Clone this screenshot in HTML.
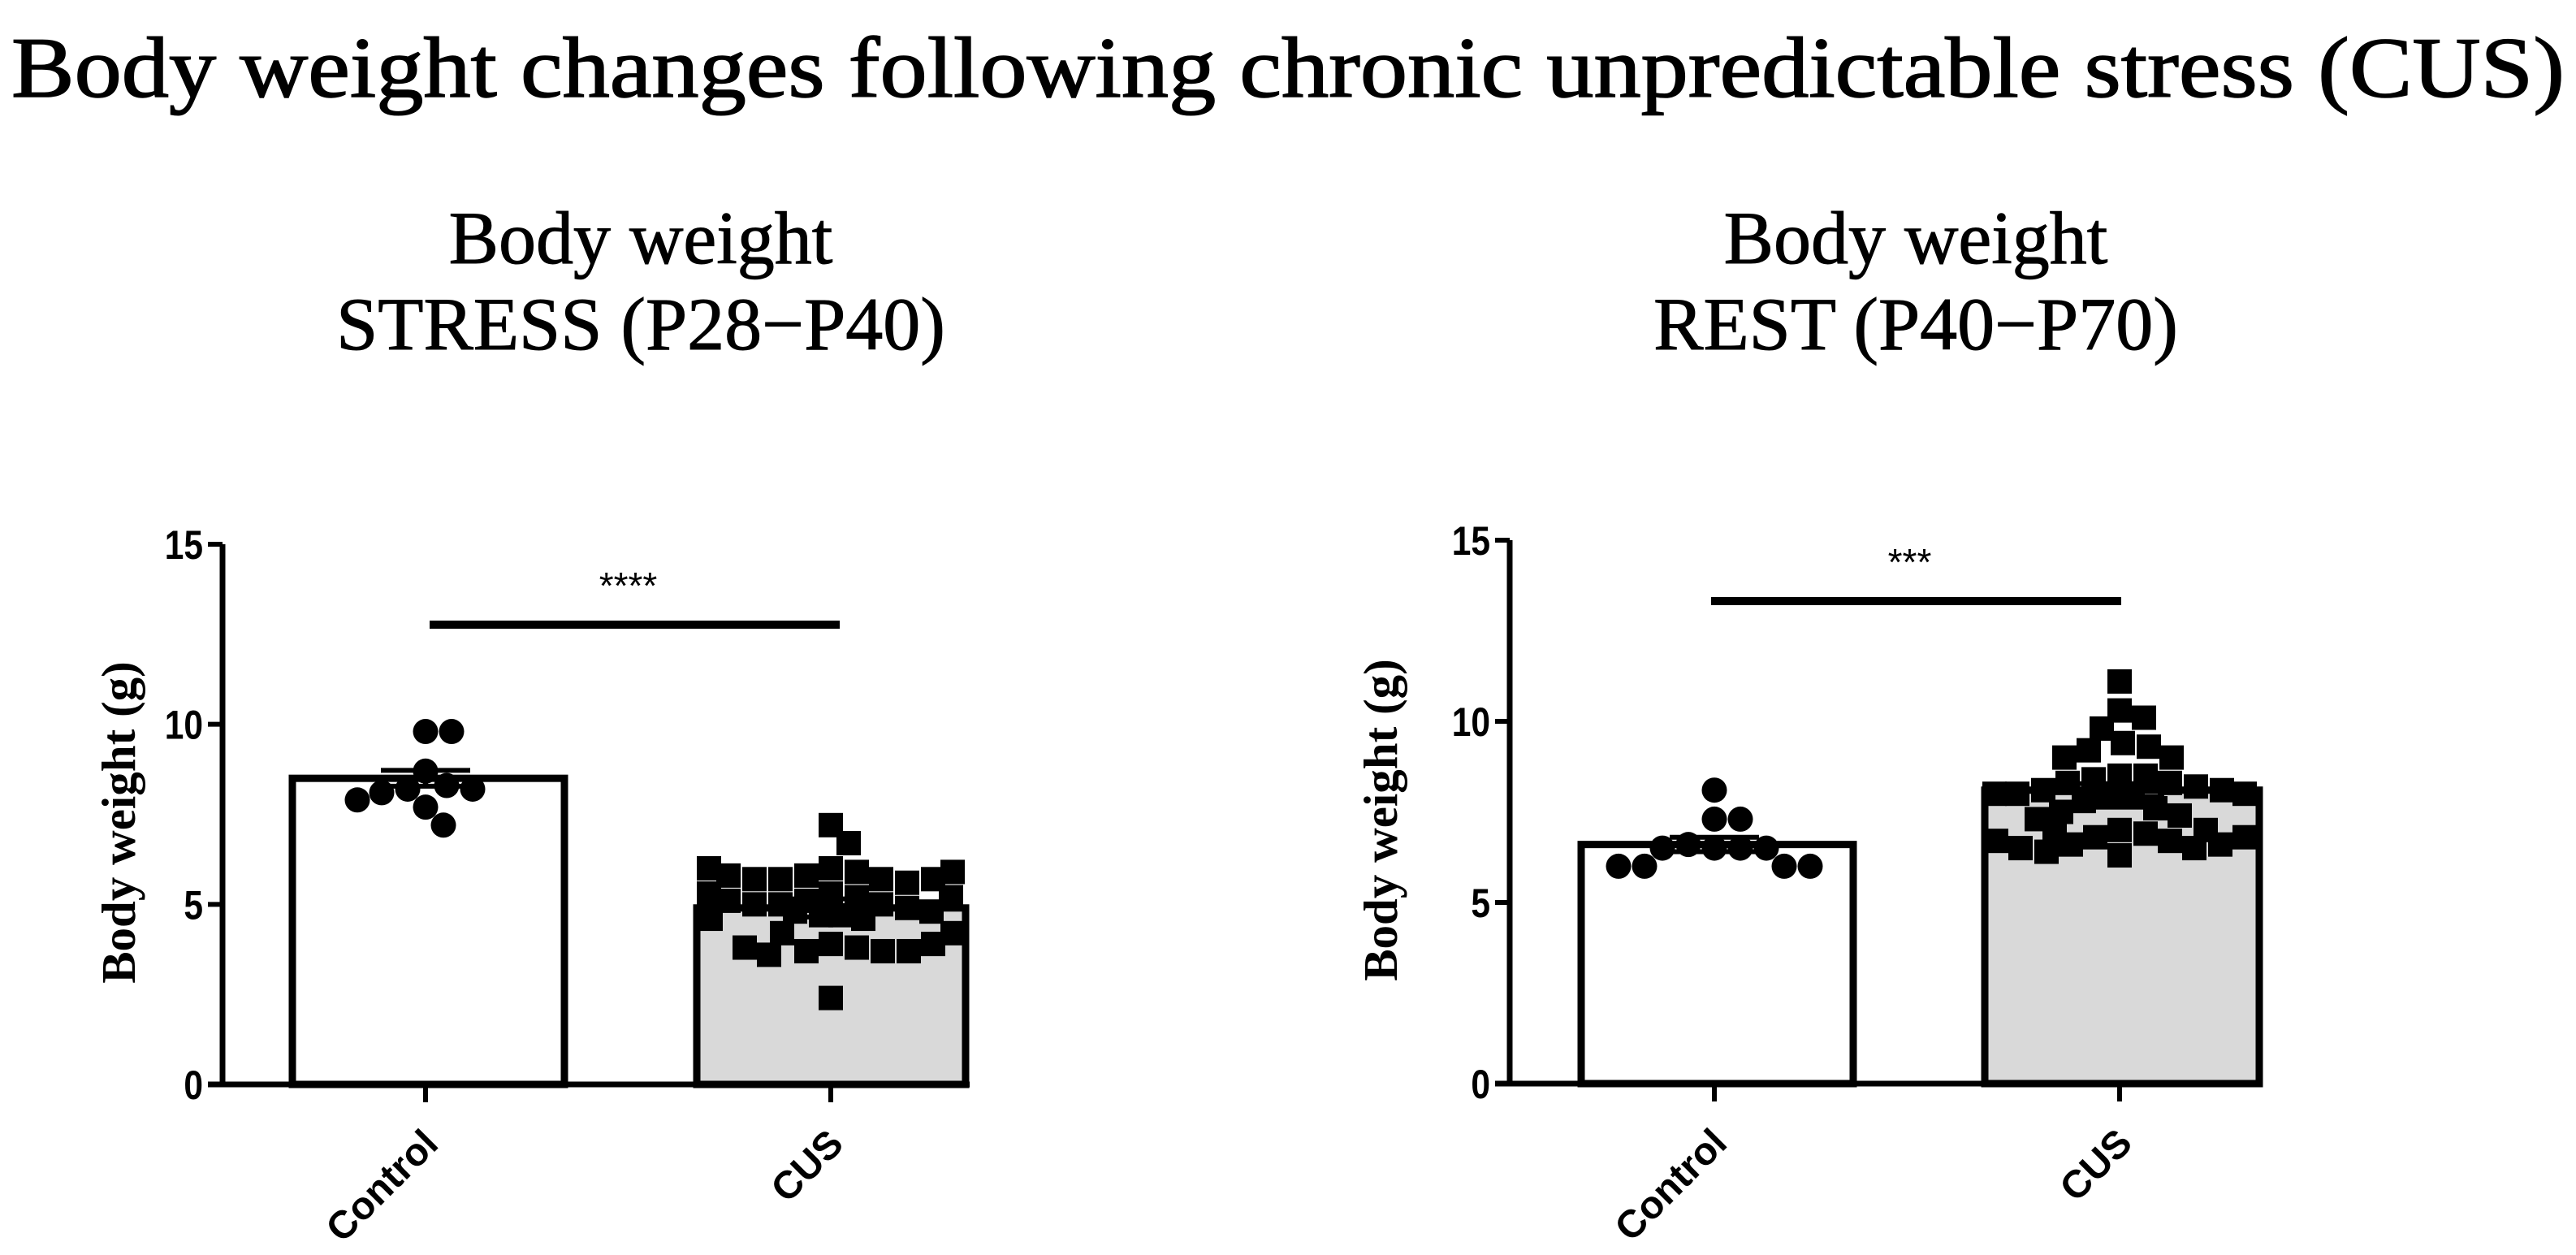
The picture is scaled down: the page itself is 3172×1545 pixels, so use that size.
<!DOCTYPE html>
<html><head><meta charset="utf-8"><style>
html,body{margin:0;padding:0;background:#fff}
svg{display:block}
.serif{font-family:"Liberation Serif",serif}
.sans{font-family:"Liberation Sans",sans-serif;font-weight:bold}
</style></head><body>
<svg id="fig" width="3172" height="1545" viewBox="0 0 3172 1545" xmlns="http://www.w3.org/2000/svg">
<text class="serif" x="14" y="119" font-size="106" textLength="3144" lengthAdjust="spacingAndGlyphs" stroke="#000" stroke-width="1.5">Body weight changes following chronic unpredictable stress (CUS)</text>
</svg>
<script>
// ----- data -----
const categories = ["Control", "CUS"];
const yTicks = [0, 5, 10, 15];
const stressMeans = [8.5, 4.9];
const stressSem = [0.22, 0.25];
const stressControlPoints = [9.8, 9.8, 8.7, 8.3, 8.2, 8.1, 8.2, 7.9, 7.7, 7.2];
const stressCusPoints = [7.2, 6.7, 6.0, 5.9, 5.8, 5.7, 5.7, 5.6, 5.7, 5.7, 5.8, 5.9, 6.0,
  5.3, 5.2, 5.1, 5.0, 5.0, 4.9, 5.0, 5.1, 5.2, 5.3, 4.8, 4.7, 4.6, 4.6, 4.7, 4.8,
  4.2, 3.9, 3.8, 3.7, 3.7, 3.6, 3.7, 3.8, 3.9, 4.2, 2.4];
const restMeans = [6.6, 8.1];
const restSem = [0.2, 0.18];
const restControlPoints = [8.1, 7.3, 7.3, 6.5, 6.5, 6.6, 6.5, 6.5, 6.0, 6.0, 6.0, 6.0];
const restCusPoints = [11.1, 10.3, 10.1, 9.8, 9.4, 9.3, 9.2, 9.0, 9.0, 8.5, 8.5, 8.4, 8.3, 8.3,
  8.2, 8.1, 8.1, 8.0, 8.0, 8.0, 7.9, 7.9, 7.8, 7.6, 7.5, 7.4, 7.3,
  7.0, 6.9, 6.8, 6.7, 6.6, 6.5, 6.4, 6.3, 6.5, 6.6, 6.7, 6.8, 6.9, 7.0];
const stressSig = "****";
const restSig = "***";

const NS = "http://www.w3.org/2000/svg";
const svg = document.getElementById("fig");
function el(tag, attrs, parent, text) {
  const e = document.createElementNS(NS, tag);
  for (const k in attrs) e.setAttribute(k, attrs[k]);
  if (text !== undefined) e.textContent = text;
  (parent || svg).appendChild(e);
  return e;
}

function drawPanel(cfg) {
  const g = el("g", {});
  
  
  const y = v => cfg.y0 + (cfg.y15 - cfg.y0) * v / 15;
  const xc = i => cfg.ticks[i];
  const t1 = el("text", {class: "serif", x: cfg.titleX, y: 324, "font-size": 92, "text-anchor": "middle", stroke: "#000", "stroke-width": 1}, g, "Body weight");
  
  
  const t2 = el("text", {class: "serif", x: cfg.titleX, y: 430, "font-size": 92, "text-anchor": "middle", stroke: "#000", "stroke-width": 1}, g, cfg.sub);
  
  
  const yl = el("text", {class: "serif", x: 0, y: 0, "font-size": 59, "font-weight": "bold", "text-anchor": "middle",
    transform: `translate(${cfg.ylabX},${(cfg.y0 + cfg.y15) / 2 + 10}) rotate(-90)`}, g, "Body weight (g)");
  
  
  for (let i = 0; i < 2; i++) {
    const b = el("rect", {x: cfg.bars[i][0], y: y(cfg.means[i]), width: cfg.bars[i][1] - cfg.bars[i][0],
      height: y(0) - y(cfg.means[i]), fill: i ? "#d9d9d9" : "#fff", stroke: "#000", "stroke-width": 9}, g);
    
    
  }
  const sets = [cfg.ctrl, cfg.cus];
  for (let i = 0; i < 2; i++) {
    const placed = [];
    const D = 31;
    const half = (cfg.bars[i][1] - cfg.bars[i][0]) / 2 - 14;
    for (const v of sets[i]) {
      const py = y(v);
      let off = 0, best = -1, bestOff = 0, found = false;
      for (let s = 0; s < 1000; s++) {
        const cand = (s % 2 ? 1 : -1) * Math.ceil(s / 2) * 2;
        if (Math.abs(cand) > half) break;
        const md = placed.reduce((m, p) => Math.min(m, Math.hypot(p[0] - cand, p[1] - py)), 1e9);
        if (md >= D) { off = cand; found = true; break; }
        if (md > best) { best = md; bestOff = cand; }
      }
      if (!found) off = bestOff;
      placed.push([off, py]);
      const px = xc(i) + off;
      let m;
      if (i === 0) m = el("circle", {cx: px, cy: py, r: 15.5, fill: "#000"}, g);
      else m = el("rect", {x: px - 15, y: py - 15, width: 30, height: 30, fill: "#000"}, g);
      
      
    }
    const eb = el("path", {d: `M${xc(i)} ${y(cfg.means[i] - cfg.sem[i])}V${y(cfg.means[i] + cfg.sem[i])}` +
      `M${xc(i) - 55} ${y(cfg.means[i] + cfg.sem[i])}h110M${xc(i) - 55} ${y(cfg.means[i] - cfg.sem[i])}h110`,
      stroke: "#000", "stroke-width": 6, fill: "none"}, g);
    
    
  }
  const ya = el("path", {d: `M${cfg.axisX} ${y(15)}V${y(0)}`, stroke: "#000", "stroke-width": 7}, g);
  
  
  const xa = el("path", {d: `M${cfg.axisX - 18} ${y(0)}H${cfg.axisEnd}`, stroke: "#000", "stroke-width": 7}, g);
  
  
  yTicks.forEach(v => {
    const tk = el("path", {d: `M${cfg.axisX - 18} ${y(v)}H${cfg.axisX}`, stroke: "#000", "stroke-width": 6}, g);
    
    
    const tl = el("text", {class: "sans", x: 0, y: 0, "font-size": 50, "text-anchor": "end",
      transform: `translate(${cfg.axisX - 24},${y(v) + 18}) scale(0.85,1)`}, g, String(v));
    
    
  });
  categories.forEach((c, i) => {
    const tk = el("path", {d: `M${xc(i)} ${y(0)}v22`, stroke: "#000", "stroke-width": 6}, g);
    
    
    const tl = el("text", {class: "sans", x: 0, y: 0, "font-size": 48, "text-anchor": "end",
      transform: `translate(${xc(i) + 18},${y(0) + 76}) rotate(-45)`}, g, c);
    
    
  });
  const sl = el("path", {d: `M${cfg.sig[0]} ${cfg.sig[2]}H${cfg.sig[1]}`, stroke: "#000", "stroke-width": 10}, g);
  
  
  const st = el("text", {class: "sans", x: (cfg.sig[0] + cfg.sig[1]) / 2 - 8, y: cfg.sig[2] - 32, "font-size": 46,
    "text-anchor": "middle", style: "font-weight:normal"}, g, cfg.stars);
  
  
}

drawPanel({name: "stress-panel", sub: "STRESS (P28\u2212P40)", titleX: 789, ylabX: 166, axisX: 274, axisEnd: 1194,
  y0: 1335, y15: 670, ticks: [524, 1023], bars: [[360, 695], [858, 1189]],
  means: stressMeans, sem: stressSem, ctrl: stressControlPoints, cus: stressCusPoints,
  sig: [529, 1034, 769], stars: stressSig});
drawPanel({name: "rest-panel", sub: "REST (P40\u2212P70)", titleX: 2359, ylabX: 1720, axisX: 1859, axisEnd: 2786,
  y0: 1334, y15: 665, ticks: [2111, 2610], bars: [[1947, 2282], [2444, 2782]],
  means: restMeans, sem: restSem, ctrl: restControlPoints, cus: restCusPoints,
  sig: [2107, 2612, 740], stars: restSig});
</script>
</body></html>
